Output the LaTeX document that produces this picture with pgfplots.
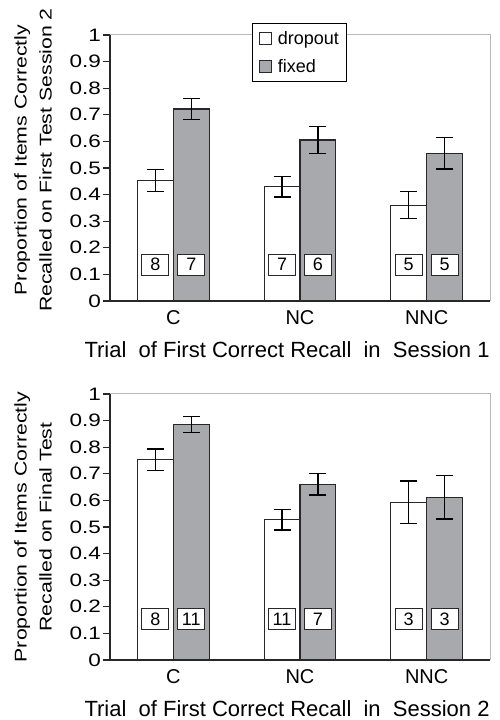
\documentclass[border=0pt]{standalone}
\usepackage{pgfplots}
\pgfplotsset{compat=1.18}
\usepackage{fontspec}
\setmainfont{Liberation Sans}
\newfontfamily\wide{Liberation Sans}[FakeStretch=1.25]
\definecolor{barfill}{RGB}{168,169,172}
\definecolor{edge}{RGB}{40,40,40}
\tikzset{numbox/.style={draw=edge, fill=white, line width=0.9pt, minimum width=27pt, minimum height=21pt, inner sep=0pt, font=\fontsize{18}{20}\selectfont}}
\pgfplotsset{
 mystyle/.style={
  scale only axis, width=380pt, height=266pt,
  xmin=-0.5, xmax=2.5, ymin=0, ymax=1,
  ybar=0pt, bar width=0.283,
  axis lines=left, axis line style={-, line width=1.3pt, edge},
  xtick={0,1,2}, xticklabels={C,NC,NNC}, x tick style={draw=none},
  ytick={0,0.1,0.2,0.3,0.4,0.5,0.6,0.7,0.8,0.9,1},
  yticklabels={0,0.1,0.2,0.3,0.4,0.5,0.6,0.7,0.8,0.9,1},
  y tick style={line width=1.3pt, edge}, tick align=outside, major tick length=7pt,
  yticklabel style={font=\wide\fontsize{18}{20}\selectfont, inner sep=2pt},
  xticklabel style={font=\fontsize{20}{22}\selectfont, anchor=north, inner sep=0pt, yshift=-2pt},
  every axis y label/.style={at={(axis description cs:-0.2026,0.5)}, rotate=90, anchor=center, align=center, font=\wide\fontsize{17}{25}\selectfont},
  every axis x label/.style={at={(axis description cs:0.466,-0.182)}, anchor=center, font=\fontsize{22}{24}\selectfont},
  error bars/error bar style={line width=1.2pt, black},
  error bars/error mark options={line width=1.2pt, black, mark size=8.5pt, rotate=90},
  legend image code/.code={\path[draw=none, fill=none] (0pt,-6pt) rectangle (17pt,6pt); \draw[#1, line width=0.8pt, draw=edge] (0pt,-6pt) rectangle (12pt,6pt);},
  clip=false,
 },
 dropbar/.style={draw=edge, fill=white, line width=1.2pt, error bars/.cd, y dir=both, y explicit},
 fixbar/.style={draw=edge, fill=barfill, line width=1.2pt, error bars/.cd, y dir=both, y explicit},
}
\begin{document}
\begin{tikzpicture}
\useasboundingbox (-110pt,-60pt) rectangle (389pt,660pt);
\begin{axis}[mystyle, at={(0pt,359pt)}, anchor=south west,
  every axis y label/.append style={at={(axis description cs:-0.2026,0.53)}},
  ylabel={Proportion of Items Correctly\\Recalled on First Test Session 2},
  xlabel={Trial\ \ of First Correct Recall\ \ in\ \ Session 1},
  legend style={at={(axis description cs:0.3737,1.045)}, anchor=north west,
    draw=black, line width=1pt, fill=white, inner xsep=6pt, inner ysep=6pt, row sep=9pt,
    font=\fontsize{18}{21}\selectfont, legend cell align=left},
  ]
\draw[gray!55, line width=1pt] (rel axis cs:0,1) -- (rel axis cs:1,1) -- (rel axis cs:1,0);
\addplot[dropbar] coordinates {(0,0.452) +- (0,0.041) (1,0.429) +- (0,0.038) (2,0.360) +- (0,0.051)};
\addplot[fixbar] coordinates {(0,0.722) +- (0,0.040) (1,0.605) +- (0,0.050) (2,0.555) +- (0,0.059)};
\legend{dropout,fixed}
\node[numbox] at (axis cs:-0.1415,0.137) {8};
\node[numbox] at (axis cs:0.1415,0.137) {7};
\node[numbox] at (axis cs:0.8585,0.137) {7};
\node[numbox] at (axis cs:1.1415,0.137) {6};
\node[numbox] at (axis cs:1.8585,0.137) {5};
\node[numbox] at (axis cs:2.1415,0.137) {5};
\end{axis}
\begin{axis}[mystyle, at={(0pt,0pt)}, anchor=south west,
  ylabel={Proportion of Items Correctly\\Recalled on Final Test},
  xlabel={Trial\ \ of First Correct Recall\ \ in\ \ Session 2},
  ]
\draw[gray!55, line width=1pt] (rel axis cs:0,1) -- (rel axis cs:1,1) -- (rel axis cs:1,0);
\addplot[dropbar] coordinates {(0,0.753) +- (0,0.040) (1,0.527) +- (0,0.038) (2,0.593) +- (0,0.080)};
\addplot[fixbar] coordinates {(0,0.885) +- (0,0.031) (1,0.660) +- (0,0.040) (2,0.612) +- (0,0.082)};
\node[numbox] at (axis cs:-0.1415,0.153) {8};
\node[numbox] at (axis cs:0.1415,0.153) {11};
\node[numbox] at (axis cs:0.8585,0.153) {11};
\node[numbox] at (axis cs:1.1415,0.153) {7};
\node[numbox] at (axis cs:1.8585,0.153) {3};
\node[numbox] at (axis cs:2.1415,0.153) {3};
\end{axis}
\end{tikzpicture}
\end{document}
